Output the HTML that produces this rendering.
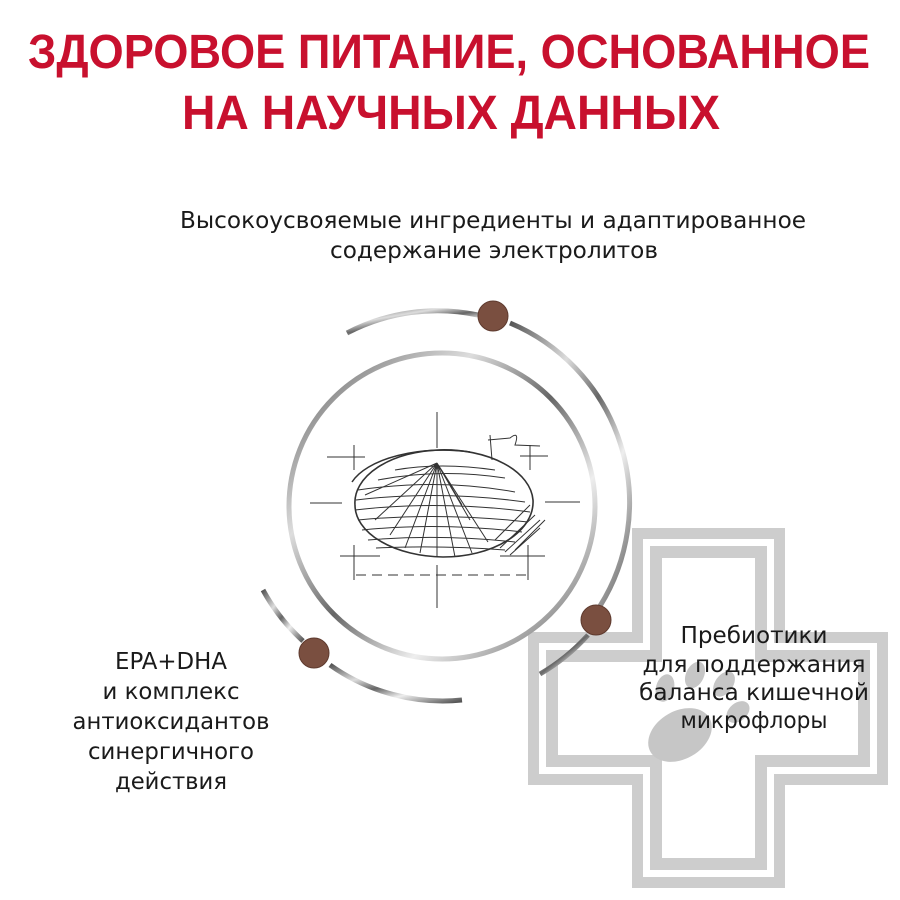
<!DOCTYPE html>
<html><head><meta charset="utf-8"><style>
html,body{margin:0;padding:0;background:#fff;width:900px;height:900px;overflow:hidden}
svg{display:block}
text{font-family:"DejaVu Sans","Liberation Sans",sans-serif}
.t{font-family:"Liberation Sans",sans-serif}
</style></head><body>
<svg width="900" height="900" viewBox="0 0 900 900" xmlns="http://www.w3.org/2000/svg">
<defs>
<linearGradient id="met" x1="0" y1="0" x2="1" y2="1">
<stop offset="0" stop-color="#555"/><stop offset="0.3" stop-color="#ddd"/><stop offset="0.5" stop-color="#666"/><stop offset="0.7" stop-color="#eee"/><stop offset="1" stop-color="#555"/>
</linearGradient>
</defs>
<polygon fill="#cdcdcd" points="632,528 785,528 785,632 888,632 888,785 785,785 785,888 632,888 632,785 528,785 528,632 632,632"/>
<polygon fill="#fff" points="643,539 774,539 774,643 877,643 877,774 774,774 774,877 643,877 643,774 539,774 539,643 643,643"/>
<polygon fill="#cdcdcd" points="650,546 767,546 767,650 870,650 870,767 767,767 767,870 650,870 650,767 546,767 546,650 650,650"/>
<polygon fill="#fff" points="662,558 755,558 755,662 858,662 858,755 755,755 755,858 662,858 662,755 558,755 558,662 662,662"/>
<g fill="#c6c6c6">
<ellipse cx="680" cy="735" rx="34" ry="24" transform="rotate(-30 680 735)"/>
<ellipse cx="665" cy="688" rx="9" ry="14" transform="rotate(15 665 688)"/>
<ellipse cx="695" cy="675" rx="9" ry="14" transform="rotate(25 695 675)"/>
<ellipse cx="724" cy="684" rx="9" ry="14" transform="rotate(35 724 684)"/>
<ellipse cx="738" cy="712" rx="9" ry="13" transform="rotate(50 738 712)"/>
</g>
<text class="t" x="28" y="68" font-size="48" font-weight="bold" fill="#c8102e" textLength="842" lengthAdjust="spacingAndGlyphs">ЗДОРОВОЕ ПИТАНИЕ, ОСНОВАННОЕ</text>
<text class="t" x="182" y="129" font-size="48" font-weight="bold" fill="#c8102e" textLength="538" lengthAdjust="spacingAndGlyphs">НА НАУЧНЫХ ДАННЫХ</text>
<g font-size="23" fill="#1a1a1a" text-anchor="middle">
<text x="493" y="228" textLength="626" lengthAdjust="spacingAndGlyphs">Высокоусвояемые ингредиенты и адаптированное</text>
<text x="494" y="258" textLength="328" lengthAdjust="spacingAndGlyphs">содержание электролитов</text>
<text x="171" y="669" textLength="112" lengthAdjust="spacingAndGlyphs">EPA+DHA</text>
<text x="171" y="699" textLength="137" lengthAdjust="spacingAndGlyphs">и комплекс</text>
<text x="171" y="729" textLength="197" lengthAdjust="spacingAndGlyphs">антиоксидантов</text>
<text x="171" y="759" textLength="166" lengthAdjust="spacingAndGlyphs">синергичного</text>
<text x="171" y="789" textLength="112" lengthAdjust="spacingAndGlyphs">действия</text>
<text x="754" y="643" textLength="147" lengthAdjust="spacingAndGlyphs">Пребиотики</text>
<text x="754" y="672" textLength="223" lengthAdjust="spacingAndGlyphs">для поддержания</text>
<text x="754" y="700" textLength="230" lengthAdjust="spacingAndGlyphs">баланса кишечной</text>
<text x="754" y="728" textLength="147" lengthAdjust="spacingAndGlyphs">микрофлоры</text>
</g>
<circle cx="442" cy="506" r="153" fill="none" stroke="url(#met)" stroke-width="5"/>
<g fill="none" stroke="url(#met)" stroke-width="5">
<path d="M347,333 A195,195 0 0 1 478,315"/>
<path d="M510,323 A195,195 0 0 1 600,606"/>
<path d="M588,635 A195,195 0 0 1 540,674"/>
<path d="M263,590 A195,195 0 0 0 303,641"/>
<path d="M330,665 A195,195 0 0 0 462,700"/>
</g>
<g fill="#7a4f40" stroke="#5e3a2e" stroke-width="1">
<circle cx="493" cy="316" r="15"/>
<circle cx="596" cy="620" r="15"/>
<circle cx="314" cy="653" r="15"/>
</g>
<g fill="none" stroke="#333" stroke-width="1">
<line x1="437" y1="412" x2="437" y2="448"/><line x1="437" y1="565" x2="437" y2="608"/>
<line x1="327" y1="457" x2="365" y2="457"/><line x1="354" y1="445" x2="354" y2="470"/>
<line x1="310" y1="503" x2="342" y2="503"/><line x1="545" y1="502" x2="580" y2="502"/>
<line x1="340" y1="556" x2="380" y2="556"/><line x1="354" y1="545" x2="354" y2="580"/>
<line x1="520" y1="456" x2="548" y2="456"/><line x1="530" y1="445" x2="530" y2="470"/>
<line x1="500" y1="556" x2="545" y2="556"/><line x1="528" y1="545" x2="528" y2="580"/>
<line x1="356" y1="575" x2="528" y2="575" stroke-dasharray="10,6"/>
<path d="M355,505 A88,52 0 0 1 533,500 A90,55 0 0 1 443,557 A90,52 0 0 1 355,505" stroke-width="1.6"/>
<path d="M352,482 A95,45 0 0 1 470,452" stroke-width="1.5"/>
<path d="M437,463 L365,495 M437,463 L375,520 M437,463 L390,535 M437,463 L405,548 M437,463 L420,553 M437,463 L437,556 M437,463 L455,557 M437,463 L472,553 M437,463 L488,542 M437,463 L462,505 M437,463 L470,520"/>
<path d="M358,490 Q440,478 515,492 M356,500 Q440,490 525,502 M355,510 Q440,500 530,512 M358,520 Q440,512 528,522 M362,530 Q440,522 522,532 M368,540 Q440,534 515,542 M376,548 Q440,545 505,550 M378,480 Q440,468 505,478 M395,470 Q440,462 495,470"/>
<path d="M495,540 L530,505 M500,548 L535,515 M505,552 L540,520 M510,555 L540,528 M515,550 L545,520"/>
<path d="M490,435 L492,460 M488,440 L510,438 Q520,430 515,445 L540,446"/>
</g>
</svg>
</body></html>
